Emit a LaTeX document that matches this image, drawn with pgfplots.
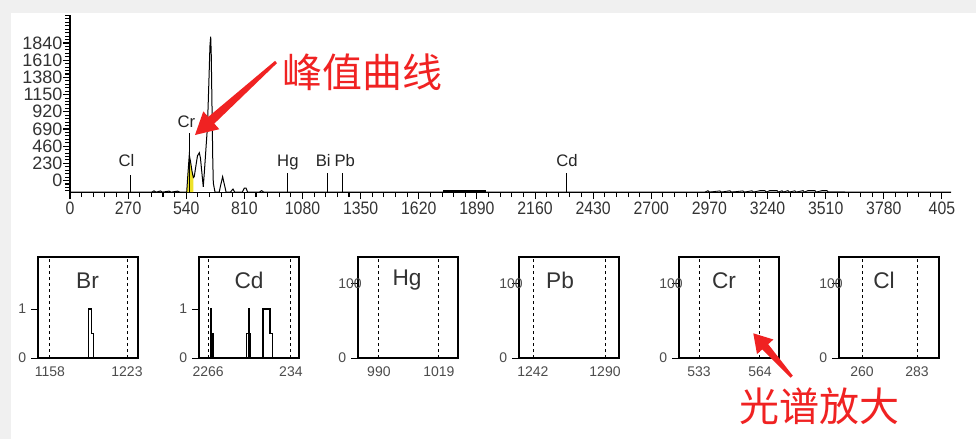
\documentclass[border=0pt]{standalone}
\usepackage{pgfplots}
\pgfplotsset{compat=1.18}
\usepackage{fontspec}
\setmainfont{Liberation Sans}
\newfontfamily\cjk{Noto Sans CJK SC}
\newfontfamily\tickfont[FakeStretch=0.88]{Liberation Sans}
\definecolor{annred}{RGB}{240,34,34}
\definecolor{bggray}{RGB}{240,240,240}
\definecolor{specyellow}{RGB}{238,226,40}
\pgfplotsset{/pgf/number format/assume math mode=true}
\pgfplotsset{panel/.style={
  anchor=south west, scale only axis, width=75pt, height=75.75pt,
  xmajorgrids, grid style={dash pattern=on 2.25pt off 2.25pt, black, line width=0.7pt},
  axis line style={line width=0.9pt},
  xtick style={draw=none},
  ytick pos=left,
  ytick align=outside, ytick style={black, line width=0.6pt},
  major tick length=5pt,
  tick label style={font=\fontsize{10.5}{11}\selectfont, text=black!70},
  yticklabel style={anchor=west, inner sep=0pt, xshift=-10pt},
  xticklabel style={inner sep=2pt, yshift=-4pt},
  ymin=0, scaled ticks=false, clip=true}}
\begin{document}
\begin{tikzpicture}
\begin{scope}[x=0.75pt,y=-0.75pt]
\fill[bggray] (0,0) rectangle (976,439);
\fill[white] (11,13) rectangle (976,439);
\path[use as bounding box] (0,0) rectangle (976,439);
\end{scope}

% ---------------- main spectrum ----------------
\begin{axis}[
  at={(52.5pt,-144.375pt)}, anchor=south west, scale only axis,
  width=660.75pt, height=133.125pt,
  xmin=0, xmax=4092, ymin=-160, ymax=2215,
  axis x line*=bottom, axis y line*=left, axis line style={-, line width=0.9pt},
  xtick pos=bottom, ytick pos=left,
  xtick={0,270,540,810,1080,1350,1620,1890,2160,2430,2700,2970,3240,3510,3780,4050},
  xticklabels={0,270,540,810,1080,1350,1620,1890,2160,2430,2700,2970,3240,3510,3780,405},
  ytick={0,230,460,690,920,1150,1380,1610,1840},
  yticklabels={0,230,460,690,920,1150,1380,1610,1840},
  minor xtick={54,108,...,4090},
  minor ytick={-138,-92,...,2210},
  tick align=outside,
  major tick length=5pt, minor tick length=3.5pt,
  every tick/.style={draw=black, line width=0.8pt},
  xticklabel style={font=\tickfont\fontsize{13.5}{14}\selectfont, text=black!80, inner sep=1.5pt},
  yticklabel style={font=\fontsize{13.5}{14}\selectfont, text=black!80, inner sep=0.5pt},
  scaled ticks=false, clip=false,
]
% yellow area under the Cr peak
\addplot[fill=specyellow, draw=none] coordinates {
  (542,-155) (548,100) (554,341) (560,250) (567,120) (573,40) (573,-155)} -- cycle;
% spectrum
\addplot[black, line width=0.75pt] coordinates {
  (0,-155) (380,-155) (390,-138) (400,-155) (420,-140) (430,-155) (460,-142) (470,-155)
  (500,-142) (510,-155) (542,-155) (548,100) (554,341) (560,250) (567,120) (573,40)
  (577,51) (585,200) (592,330) (600.6,372) (606,300) (612,120) (619,-83) (625,150)
  (632,452) (638,700) (642,1037) (647,1500) (650,1800) (653.5,1924) (656,1700) (658,1300)
  (660.5,810) (663,300) (665.6,-33) (673.5,-155) (693,-155) (700,-60) (709,51) (716,-40)
  (725,-155) (745,-155) (757,-114) (765,-155) (800,-155) (810,-100) (817.5,-100)
  (825,-155) (880,-155) (890,-135) (900,-155) (4092,-155)};
% noise patches
\addplot[black, line width=1.5pt] coordinates {(1733,-140) (1930,-140)};
\addplot[black, line width=0.6pt] coordinates {
  (2950,-155) (2963,-135) (2970,-155) (3019,-138) (3025,-155) (3065,-136) (3072,-155)
  (3126,-138) (3132,-155) (3168,-136) (3175,-155) (3205,-134) (3228,-134) (3234,-155)
  (3251,-133) (3284,-133) (3290,-155) (3307,-136) (3313,-155) (3335,-134) (3341,-155)
  (3367,-136) (3373,-155) (3405,-134) (3411,-155) (3428,-133) (3460,-133) (3466,-155)
  (3493,-134) (3516,-134) (3522,-155) (3600,-155)};
% element marker lines
\addplot[black, line width=0.75pt] coordinates {(279,-160) (279,74)};
\addplot[black, line width=0.75pt] coordinates {(553,-160) (553,640)};
\addplot[black, line width=0.75pt] coordinates {(1012,-160) (1012,100)};
\addplot[black, line width=0.75pt] coordinates {(1198,-160) (1198,100)};
\addplot[black, line width=0.75pt] coordinates {(1268,-160) (1268,100)};
\addplot[black, line width=0.75pt] coordinates {(2308,-160) (2308,100)};
\begin{scope}[every node/.style={font=\fontsize{12.5}{13}\selectfont, text=black!85, anchor=base, inner sep=0pt}]
\node at (axis cs:262,187) {Cl};
\node at (axis cs:541,709) {Cr};
\node at (axis cs:1012,187) {Hg};
\node at (axis cs:1176,187) {Bi};
\node[fill=white, inner xsep=0.3pt] at (axis cs:1276,187) {Pb};
\node at (axis cs:2308,187) {Cd};
\end{scope}
\end{axis}

% ---------------- zoom panels ----------------
\begin{axis}[panel, at={(28.5pt,-268.5pt)}, xmin=1148, xmax=1232.3, ymax=2.06,
  xtick={1158,1223}, xticklabels={1158,1223}, ytick={0,1}]
\addplot[black, line width=0.9pt] coordinates {(1148,0) (1190.5,0) (1190.5,1) (1193,1)
  (1193,0.5) (1194.5,0.5) (1194.5,0) (1232.3,0)};
\node[font=\fontsize{17}{18}\selectfont, text=black!80] at (rel axis cs:0.495,0.77) {Br};
\end{axis}

\begin{axis}[panel, at={(149.25pt,-268.5pt)}, xmin=2257.2, xmax=2353.8, ymax=2.06,
  xtick={2266,2346}, xticklabels={2266,234}, ytick={0,1}]
\addplot[black, line width=0.9pt] coordinates {(2257.2,0) (2268.6,0) (2268.6,1) (2269.2,1)
  (2269.2,0.5) (2271.2,0.5) (2271.2,0) (2303,0) (2303,0.5) (2305,0.5) (2305,1) (2306.3,1)
  (2306.3,0.5) (2307,0.5) (2307,0) (2319,0) (2319,1) (2325.8,1) (2325.8,0.5) (2328.1,0.5)
  (2328.1,0) (2353.8,0)};
\addplot[black, line width=1.6pt] coordinates {(2269.9,0) (2269.9,0.5)};
\addplot[black, line width=1.8pt] coordinates {(2305.6,0) (2305.6,1)};
\node[font=\fontsize{17}{18}\selectfont, text=black!80] at (rel axis cs:0.5,0.77) {Cd};
\end{axis}

\begin{axis}[panel, at={(268.5pt,-268.5pt)}, xmin=979.9, xmax=1028.2, ymax=136,
  xtick={990,1019}, xticklabels={990,1019}, ytick={0,100}]
\addplot[black, line width=1.4pt] coordinates {(979.9,0) (1028.2,0)};
\node[font=\fontsize{17}{18}\selectfont, text=black!80] at (rel axis cs:0.49,0.77) {Hg};
\end{axis}

\begin{axis}[panel, at={(389.25pt,-268.5pt)}, xmin=1232.7, xmax=1299.3, ymax=136,
  xtick={1242,1290}, xticklabels={1242,1290}, ytick={0,100}]
\addplot[black, line width=1.4pt] coordinates {(1232.7,0) (1299.3,0)};
\node[font=\fontsize{17}{18}\selectfont, text=black!80] at (rel axis cs:0.41,0.77) {Pb};
\end{axis}

\begin{axis}[panel, at={(509.25pt,-268.5pt)}, xmin=522.8, xmax=573.7, ymax=136,
  xtick={533,564}, xticklabels={533,564}, ytick={0,100}]
\addplot[black, line width=1.4pt] coordinates {(522.8,0) (573.7,0)};
\node[font=\fontsize{17}{18}\selectfont, text=black!80] at (rel axis cs:0.45,0.77) {Cr};
\end{axis}

\begin{axis}[panel, at={(629.25pt,-268.5pt)}, xmin=250.4, xmax=292.2, ymax=136,
  xtick={260,283}, xticklabels={260,283}, ytick={0,100}]
\addplot[black, line width=1.4pt] coordinates {(250.4,0) (292.2,0)};
\node[font=\fontsize{17}{18}\selectfont, text=black!80] at (rel axis cs:0.45,0.77) {Cl};
\end{axis}

% ---------------- annotations ----------------
\begin{scope}[x=0.75pt,y=-0.75pt]
\fill[annred] (195,135) -- (219.3,129.2) -- (214.3,123.6) -- (277,63.1) -- (275,60.9)
  -- (208.3,116.9) -- (203.3,111.4) -- cycle;
\node[annred, font=\cjk\fontsize{30}{30}\selectfont, inner sep=0pt] at (362,72) {峰值曲线};
\fill[annred] (753.3,333.3) -- (773.4,339.5) -- (768.2,344.2) -- (792.8,375.7) -- (790.6,377.7)
  -- (762.2,349.4) -- (757,354.1) -- cycle;
\node[annred, font=\cjk\fontsize{30}{30}\selectfont, inner sep=0pt] at (819,406) {光谱放大};
\end{scope}
\end{tikzpicture}
\end{document}
